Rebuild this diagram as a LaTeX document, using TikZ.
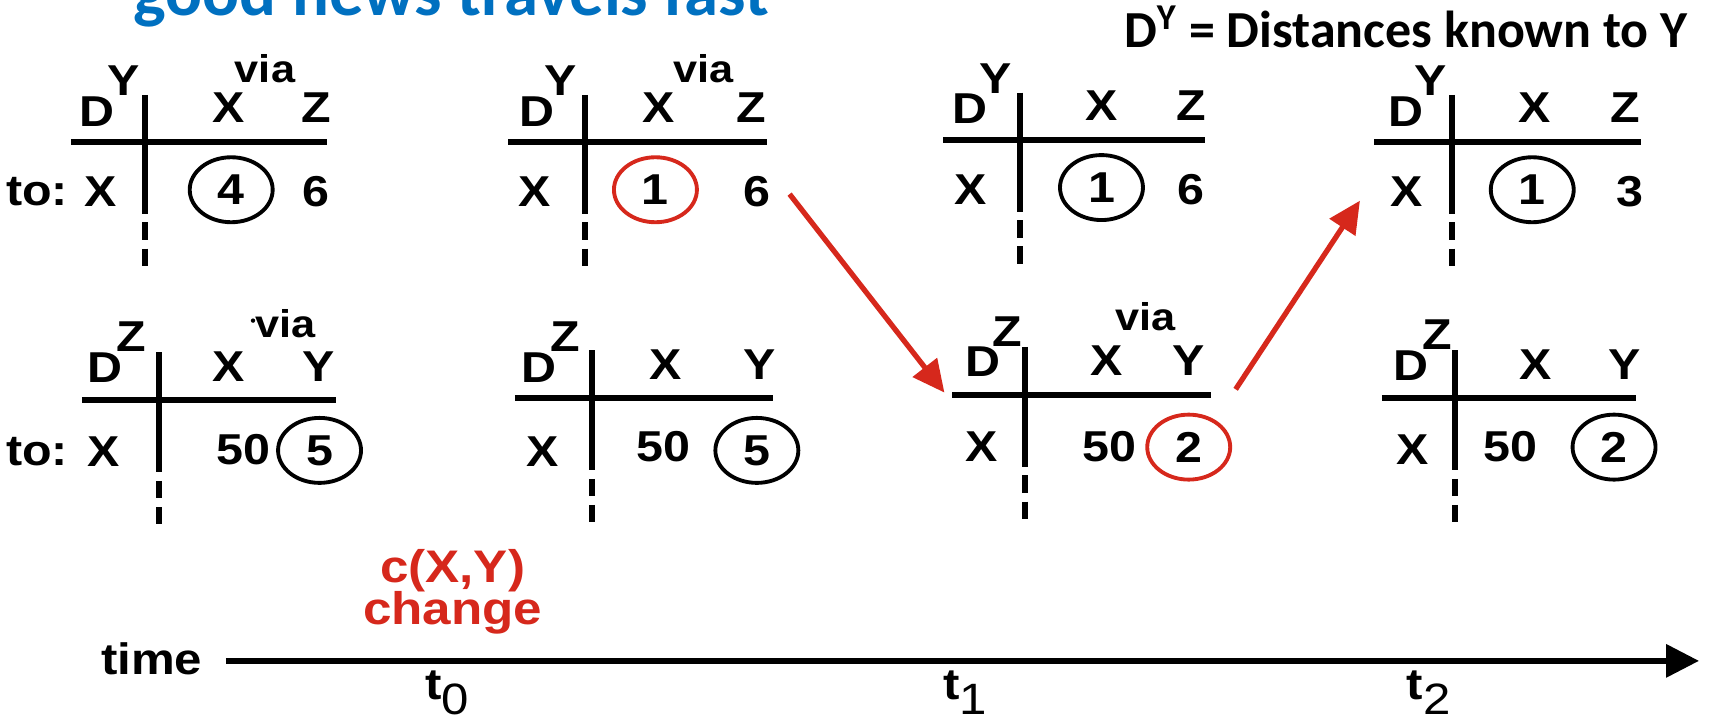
\documentclass[tikz,border=0pt]{standalone}
\usepackage{fontspec}
\setmainfont{Liberation Sans}[FakeStretch=1.12]
\newfontfamily\calfont{Carlito}
\usetikzlibrary{arrows.meta,shapes.geometric}
\definecolor{chgred}{RGB}{214,40,28}
\definecolor{ttlblue}{RGB}{0,112,192}
\tikzset{
  lbl/.style={font=\fontsize{12.3}{14}\selectfont\bfseries, inner sep=0pt},
  vlbl/.style={font=\fontsize{11}{13}\selectfont\bfseries, inner sep=0pt},
  ent/.style={lbl, ellipse, draw, line width=1.1pt, minimum width=0.83cm, minimum height=0.65cm},
  tbl/.style={line width=1.7pt},
  brk/.style={line width=1.7pt, dash pattern=on 0.174cm off 0.087cm},
  chg/.style={chgred, line width=1.5pt, -{Triangle[length=3.2mm,width=3mm]}},
  timeax/.style={line width=1.8pt, -{Triangle[length=3.3mm,width=3.2mm]}}
}
\begin{document}
\begin{tikzpicture}[x=0.010906cm, y=-0.010906cm]
\useasboundingbox (0,0) rectangle (1568,661);
\clip (0,0) rectangle (1568,661);

\node[anchor=base west, text=ttlblue, inner sep=0pt, font=\calfont\bfseries\fontsize{19.6}{22}\selectfont] (title) at (122,14) {good news travels fast};
\node[anchor=base east, inner sep=0pt, font=\calfont\bfseries\fontsize{14.8}{17}\selectfont] (key) at (1548,44) {D\textsuperscript{Y} = Distances known to Y};

% Y's table at t0
\draw[tbl] (65,130) -- (300,130);
\draw[tbl] (133,87) -- (133,196);
\draw[brk] (133,204) -- (133,244);
\node[lbl] (aD) at (89,102) {D};
\node[lbl] (aDs) at (113,74) {Y};
\node[vlbl] (avia) at (243,63) {via};
\node[lbl] (ahx) at (210,99) {X};
\node[lbl] (ahz) at (290,99) {Z};
\node[lbl] (ato) at (34,176) {to:};
\node[lbl] (arx) at (92,176) {X};
\node[ent] (a4) at (212,174) {4};
\node[lbl] (a6) at (290,176) {6};

% Y's table after the change
\draw[tbl] (466,130) -- (703,130);
\draw[tbl] (536,87) -- (536,196);
\draw[brk] (536,204) -- (536,244);
\node[lbl] (bD) at (492,102) {D};
\node[lbl] (bDs) at (514,74) {Y};
\node[vlbl] (bvia) at (645,63) {via};
\node[lbl] (bhx) at (604,99) {X};
\node[lbl] (bhz) at (689,99) {Z};
\node[lbl] (brx) at (490,176) {X};
\node[ent, draw=chgred] (b1) at (601,174) {1};
\node[lbl] (b6) at (694,176) {6};

% Y's table at t1
\draw[tbl] (865,128) -- (1105,128);
\draw[tbl] (935,85) -- (935,194);
\draw[brk] (935,202) -- (935,242);
\node[lbl] (cD) at (889,100) {D};
\node[lbl] (cDs) at (913,72) {Y};
\node[lbl] (chx) at (1010,97) {X};
\node[lbl] (chz) at (1092,97) {Z};
\node[lbl] (crx) at (890,174) {X};
\node[ent] (c1) at (1010,172) {1};
\node[lbl] (c6) at (1092,174) {6};

% Y's table at t2
\draw[tbl] (1260,130) -- (1505,130);
\draw[tbl] (1331,87) -- (1331,196);
\draw[brk] (1331,204) -- (1331,244);
\node[lbl] (dD) at (1289,102) {D};
\node[lbl] (dDs) at (1312,74) {Y};
\node[lbl] (dhx) at (1407,99) {X};
\node[lbl] (dhz) at (1490,99) {Z};
\node[lbl] (drx) at (1290,176) {X};
\node[ent] (d1) at (1405,174) {1};
\node[lbl] (d3) at (1495,176) {3};

% Z's table at t0
\draw[tbl] (75,367) -- (308,367);
\draw[tbl] (146,323) -- (146,433);
\draw[brk] (146,441) -- (146,481);
\node[lbl] (eD) at (96,337) {D};
\node[lbl] (eDs) at (120,309) {Z};
\fill (232,294) circle (0.022cm);
\node[vlbl] (evia) at (262,297) {via};
\node[lbl] (ehx) at (210,336) {X};
\node[lbl] (ehy) at (292,336) {Y};
\node[lbl] (eto) at (34,414) {to:};
\node[lbl] (erx) at (95,414) {X};
\node[lbl] (e50) at (223,412) {50};
\node[ent] (e5) at (293,413) {5};

% Z's table after the change
\draw[tbl] (472,365) -- (709,365);
\draw[tbl] (543,321) -- (543,431);
\draw[brk] (543,439) -- (543,479);
\node[lbl] (fD) at (494,337) {D};
\node[lbl] (fDs) at (518,309) {Z};
\node[lbl] (fhx) at (610,334) {X};
\node[lbl] (fhy) at (697,334) {Y};
\node[lbl] (frx) at (498,414) {X};
\node[lbl] (f50) at (608,410) {50};
\node[ent] (f5) at (694,413) {5};

% Z's table at t1
\draw[tbl] (873,362) -- (1110,362);
\draw[tbl] (940,318) -- (940,428);
\draw[brk] (940,436) -- (940,476);
\node[lbl] (gD) at (901,332) {D};
\node[lbl] (gDs) at (924,304) {Z};
\node[vlbl] (gvia) at (1050,290) {via};
\node[lbl] (ghx) at (1015,331) {X};
\node[lbl] (ghy) at (1090,331) {Y};
\node[lbl] (grx) at (900,410) {X};
\node[lbl] (g50) at (1017,410) {50};
\node[ent, draw=chgred] (g2) at (1090,410) {2};

% Z's table at t2
\draw[tbl] (1267,365) -- (1500,365);
\draw[tbl] (1334,321) -- (1334,431);
\draw[brk] (1334,439) -- (1334,479);
\node[lbl] (hD) at (1294,335) {D};
\node[lbl] (hDs) at (1318,307) {Z};
\node[lbl] (hhx) at (1408,334) {X};
\node[lbl] (hhy) at (1490,334) {Y};
\node[lbl] (hrx) at (1295,412) {X};
\node[lbl] (h50) at (1385,410) {50};
\node[ent] (h2) at (1480,410) {2};

% updates sent
\coordinate (s1) at (724,178);
\coordinate (e1) at (866,360);
\coordinate (s2) at (1133,357);
\coordinate (e2) at (1247,184);
\draw[chg] (s1) -- (e1);
\draw[chg] (s2) -- (e2);

% time line
\node[text=chgred, anchor=base, inner sep=0pt, font=\fontsize{13}{15}\selectfont\bfseries] (cxy) at (415,534) {c(X,Y)};
\node[text=chgred, anchor=base, inner sep=0pt, font=\fontsize{13}{15}\selectfont\bfseries] (chng) at (415,573) {change};
\node[lbl, font=\fontsize{12.5}{14}\selectfont\bfseries] (time) at (139,604) {time};
\coordinate (ts) at (207,606);
\coordinate (te) at (1558,606);
\draw[timeax] (ts) -- (te);
\node[lbl, font=\fontsize{12.5}{14}\selectfont\bfseries] (t0) at (410,635) {t\raisebox{-1.5mm}{\mdseries 0}};
\node[lbl, font=\fontsize{12.5}{14}\selectfont\bfseries] (t1) at (885,635) {t\raisebox{-1.5mm}{\mdseries 1}};
\node[lbl, font=\fontsize{12.5}{14}\selectfont\bfseries] (t2) at (1310,635) {t\raisebox{-1.5mm}{\mdseries 2}};
\end{tikzpicture}
\end{document}
